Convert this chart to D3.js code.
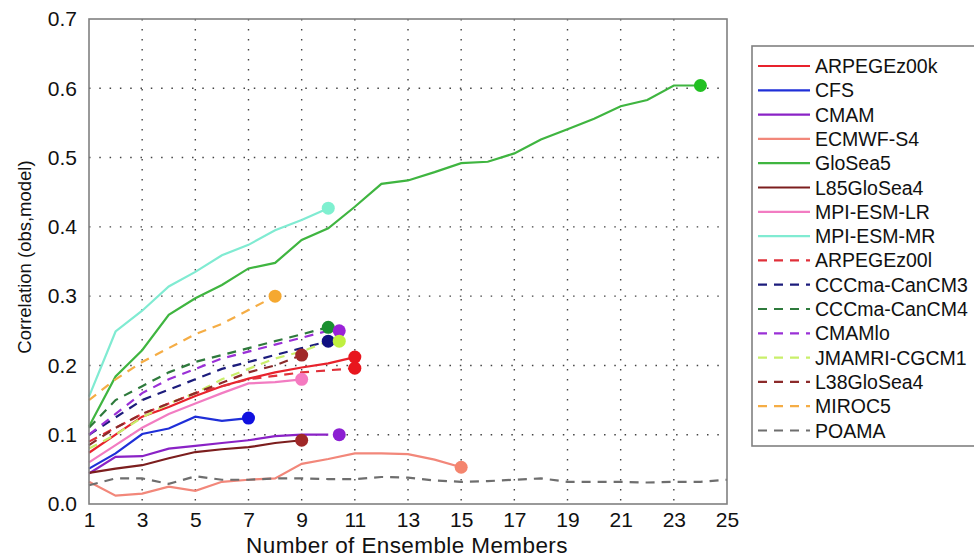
<!DOCTYPE html>
<html>
<head>
<meta charset="utf-8">
<script src="https://cdn.jsdelivr.net/npm/d3@7"></script>
<style>
  body { margin: 0; background: white; }
  svg { font-family: "Liberation Sans", Arial, sans-serif; }
</style>
</head>
<body>
<div id="chart"></div>
<script>
// data (correlation vs number of ensemble members)

const models = ["ARPEGEz00k", "CFS", "CMAM", "ECMWF-S4", "GloSea5", "L85GloSea4",
  "MPI-ESM-LR", "MPI-ESM-MR", "ARPEGEz00l", "CCCma-CanCM3", "CCCma-CanCM4",
  "CMAMlo", "JMAMRI-CGCM1", "L38GloSea4", "MIROC5", "POAMA"];

const arpegeK = [0.074, 0.10, 0.126, 0.14, 0.156, 0.17, 0.181, 0.19, 0.197, 0.203, 0.212];
const cfs = [0.051, 0.073, 0.101, 0.109, 0.126, 0.12, 0.124];
const cmam = [0.044, 0.068, 0.069, 0.08, 0.084, 0.088, 0.092, 0.098, 0.10, 0.10];
const ecmwf = [0.032, 0.012, 0.015, 0.025, 0.019, 0.032, 0.035, 0.037, 0.058, 0.065,
  0.073, 0.073, 0.072, 0.064, 0.053];
const glosea5 = [0.112, 0.184, 0.222, 0.273, 0.297, 0.316, 0.34, 0.348, 0.381, 0.398,
  0.429, 0.462, 0.467, 0.479, 0.492, 0.494, 0.506, 0.526, 0.541, 0.556, 0.574, 0.583,
  0.604, 0.604];
const l85 = [0.045, 0.051, 0.056, 0.066, 0.075, 0.079, 0.082, 0.088, 0.092];
const mpiLR = [0.06, 0.085, 0.11, 0.13, 0.145, 0.16, 0.174, 0.176, 0.18];
const mpiMR = [0.155, 0.249, 0.279, 0.314, 0.335, 0.359, 0.374, 0.395, 0.41, 0.427];
const arpegeL = [0.09, 0.11, 0.13, 0.145, 0.16, 0.17, 0.18, 0.185, 0.19, 0.193, 0.196];
const canCM3 = [0.10, 0.125, 0.15, 0.165, 0.18, 0.195, 0.205, 0.215, 0.225, 0.235];
const canCM4 = [0.11, 0.15, 0.17, 0.19, 0.205, 0.215, 0.225, 0.235, 0.245, 0.255];
const cmamlo = [0.10, 0.13, 0.16, 0.18, 0.195, 0.21, 0.22, 0.23, 0.24, 0.25];
const jma = [0.08, 0.10, 0.125, 0.145, 0.16, 0.18, 0.195, 0.21, 0.22, 0.235];
const l38 = [0.085, 0.11, 0.13, 0.145, 0.16, 0.175, 0.19, 0.20, 0.215];
const miroc5 = [0.15, 0.18, 0.205, 0.225, 0.245, 0.26, 0.28, 0.30];
const poama = [0.027, 0.037, 0.037, 0.029, 0.04, 0.035, 0.035, 0.037, 0.037, 0.036,
  0.036, 0.039, 0.038, 0.034, 0.032, 0.033, 0.035, 0.037, 0.032, 0.032, 0.032, 0.031,
  0.032, 0.032, 0.035];

const xTicks = [1, 3, 5, 7, 9, 11, 13, 15, 17, 19, 21, 23, 25];
const yTicks = [0, 0.1, 0.2, 0.3, 0.4, 0.5, 0.6, 0.7];

// styles
const seriesValues = [arpegeK, cfs, cmam, ecmwf, glosea5, l85, mpiLR, mpiMR,
  arpegeL, canCM3, canCM4, cmamlo, jma, l38, miroc5, poama];
const colors = ["#e8222c", "#1f2fd8", "#8a22c6", "#f2877a", "#3fb540", "#7c1e1e",
  "#f27cc2", "#80ebd2", "#e0303a", "#1c1c7c", "#2e7a3c", "#9a30d6", "#c9ef6a",
  "#8c2a2a", "#f5ad45", "#6e6e6e"];
const markerColors = ["#e8161e", "#1010e0", "#8c1fd2", "#f4856e", "#22c022", "#a02828",
  "#f57ac0", "#7ff0d0", "#e8161e", "#101080", "#1a9030", "#9a22d8", "#c0f040",
  "#a02828", "#f5a830", null];
const markerShift = [0, 0, 11, 0, 0, 0, 0, 0, 0, 0, 0, 11, 11, 0, 0, 0];

const width = 974, height = 559;
const margin = {left: 89, top: 19, right: 247, bottom: 55};

const svg = d3.select("#chart").append("svg")
  .attr("width", width)
  .attr("height", height);

const x = d3.scaleLinear().domain([1, 25]).range([margin.left, width - margin.right]);
const y = d3.scaleLinear().domain([0, 0.7]).range([height - margin.bottom, margin.top]);

// grid
const grid = svg.append("g");
grid.selectAll(".vg")
  .data(xTicks.filter(d => d > 1 && d < 25))
  .join("line")
  .attr("x1", d => x(d)).attr("x2", d => x(d))
  .attr("y1", y(0.7)).attr("y2", y(0))
  .attr("stroke", "#444").attr("stroke-width", 1.4)
  .attr("stroke-dasharray", "1.5,8.5");
grid.selectAll(".hg")
  .data(yTicks.filter(d => d > 0 && d < 0.7))
  .join("line")
  .attr("x1", x(1)).attr("x2", x(25))
  .attr("y1", d => y(d)).attr("y2", d => y(d))
  .attr("stroke", "#444").attr("stroke-width", 1.4)
  .attr("stroke-dasharray", "1.5,8.8");

// lines
const line = d3.line().x((d, i) => x(i + 1)).y(d => y(d));

const series = models.map((name, i) => ({
  name: name,
  values: seriesValues[i],
  color: colors[i],
  marker: markerColors[i],
  shift: markerShift[i],
  dashed: i >= 8
}));

svg.append("g").selectAll("path")
  .data(series)
  .join("path")
  .attr("d", d => line(d.values))
  .attr("fill", "none")
  .attr("stroke", d => d.color)
  .attr("stroke-width", 2.2)
  .attr("stroke-dasharray", d => d.dashed ? "9,7" : null);

// end markers
svg.append("g").selectAll("circle")
  .data(series.filter(d => d.marker))
  .join("circle")
  .attr("cx", d => x(d.values.length) + d.shift)
  .attr("cy", d => y(d.values[d.values.length - 1]))
  .attr("r", 6.5)
  .attr("fill", d => d.marker);

// frame
svg.append("rect")
  .attr("x", x(1)).attr("y", y(0.7))
  .attr("width", x(25) - x(1)).attr("height", y(0) - y(0.7))
  .attr("fill", "none").attr("stroke", "#808080").attr("stroke-width", 1.6);

// axes
const xAxis = svg.append("g")
  .attr("transform", `translate(0,${y(0)})`)
  .call(d3.axisBottom(x).tickValues(xTicks).tickSize(0).tickPadding(8));
xAxis.select(".domain").remove();
xAxis.selectAll("text").attr("font-size", 21).attr("fill", "#111")
  .attr("font-family", "Liberation Sans, Arial, sans-serif");

const yAxis = svg.append("g")
  .attr("transform", `translate(${x(1)},0)`)
  .call(d3.axisLeft(y).tickValues(yTicks).tickFormat(d3.format(".1f")).tickSize(0).tickPadding(12));
yAxis.select(".domain").remove();
yAxis.selectAll("text").attr("font-size", 21).attr("fill", "#111")
  .attr("font-family", "Liberation Sans, Arial, sans-serif");

svg.append("text")
  .attr("x", (x(1) + x(25)) / 2 - 1)
  .attr("y", 553)
  .attr("text-anchor", "middle")
  .attr("font-size", 22.5)
  .attr("letter-spacing", 0.4)
  .attr("fill", "#111")
  .text("Number of Ensemble Members");

svg.append("text")
  .attr("transform", `translate(31,257) rotate(-90)`)
  .attr("text-anchor", "middle")
  .attr("font-size", 18.5)
  .attr("fill", "#111")
  .text("Correlation (obs,model)");

// legend
const legend = svg.append("g");
legend.append("rect")
  .attr("x", 752).attr("y", 46)
  .attr("width", 250).attr("height", 400)
  .attr("fill", "white").attr("stroke", "#808080").attr("stroke-width", 1.6);

const items = legend.selectAll(".item")
  .data(series)
  .join("g")
  .attr("transform", (d, i) => `translate(0,${66 + i * 24.3})`);
items.append("line")
  .attr("x1", 758).attr("x2", 810)
  .attr("stroke", d => d.color).attr("stroke-width", 2.2)
  .attr("stroke-dasharray", d => d.dashed ? "9,7" : null);
items.append("text")
  .attr("x", 815).attr("dy", "0.36em")
  .attr("font-size", 19.5).attr("fill", "#111")
  .text(d => d.name);
</script>
</body>
</html>
